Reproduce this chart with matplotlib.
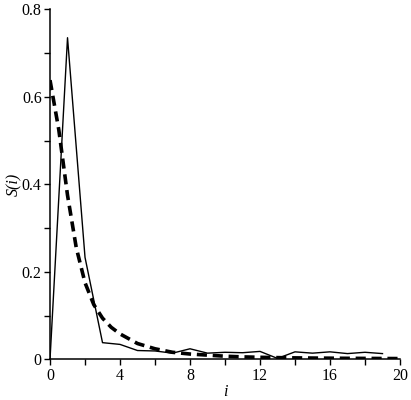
import matplotlib
matplotlib.use("Agg")
import matplotlib.pyplot as plt
from matplotlib.ticker import MultipleLocator

# solid curve, sampled at i = 0..19
i_solid = list(range(20))
s_solid = [0.0, 0.735, 0.233, 0.038, 0.034, 0.020, 0.019, 0.014, 0.024, 0.014,
           0.016, 0.015, 0.018, 0.002, 0.017, 0.014, 0.017, 0.013, 0.016, 0.013]

i_dash = [0, 0.5, 1, 1.5, 2, 2.5, 3, 3.5, 4, 5, 6, 7, 8, 9, 10, 11, 12, 13, 14,
          15, 16, 17, 18, 19, 20]
s_dash = [0.638, 0.525, 0.375, 0.255, 0.175, 0.125, 0.094, 0.073, 0.058, 0.036,
          0.024, 0.016, 0.012, 0.0095, 0.007, 0.0055, 0.0045, 0.0038, 0.0032,
          0.0028, 0.0025, 0.0022, 0.002, 0.0018, 0.0016]

x_ticks = [0, 4, 8, 12, 16, 20]
y_ticks = [0, 0.2, 0.4, 0.6, 0.8]
y_labels = ["0", "0.2", "0.4", "0.6", "0.8"]

plt.rcParams["font.family"] = "Liberation Serif"

fig = plt.figure(figsize=(4.11, 4.00), dpi=100)
ax = fig.add_axes([0.1217, 0.1018, 0.8515, 0.875])

ax.plot(i_solid, s_solid, color="k", lw=1.0)
ax.plot(i_dash, s_dash, color="k", lw=2.6, dashes=(2.8, 1.6))

ax.set_xlim(0, 20)
ax.set_ylim(0, 0.8)
ax.set_xticks(x_ticks)
ax.set_xticklabels([str(v) for v in x_ticks])
ax.set_yticks(y_ticks)
ax.set_yticklabels(y_labels)
ax.xaxis.set_minor_locator(MultipleLocator(2))
ax.yaxis.set_minor_locator(MultipleLocator(0.1))

for side in ("top", "right"):
    ax.spines[side].set_visible(False)
for side in ("left", "bottom"):
    ax.spines[side].set_linewidth(1.1)
ax.tick_params(which="both", direction="out", length=4, width=1.0,
               labelsize=11.5, pad=2)

ax.set_xlabel("i", fontstyle="italic", fontsize=11.5, labelpad=0)
ax.set_ylabel("S(i)", fontstyle="italic", fontsize=11.5, labelpad=0)

fig.savefig("out.png", dpi=100)
